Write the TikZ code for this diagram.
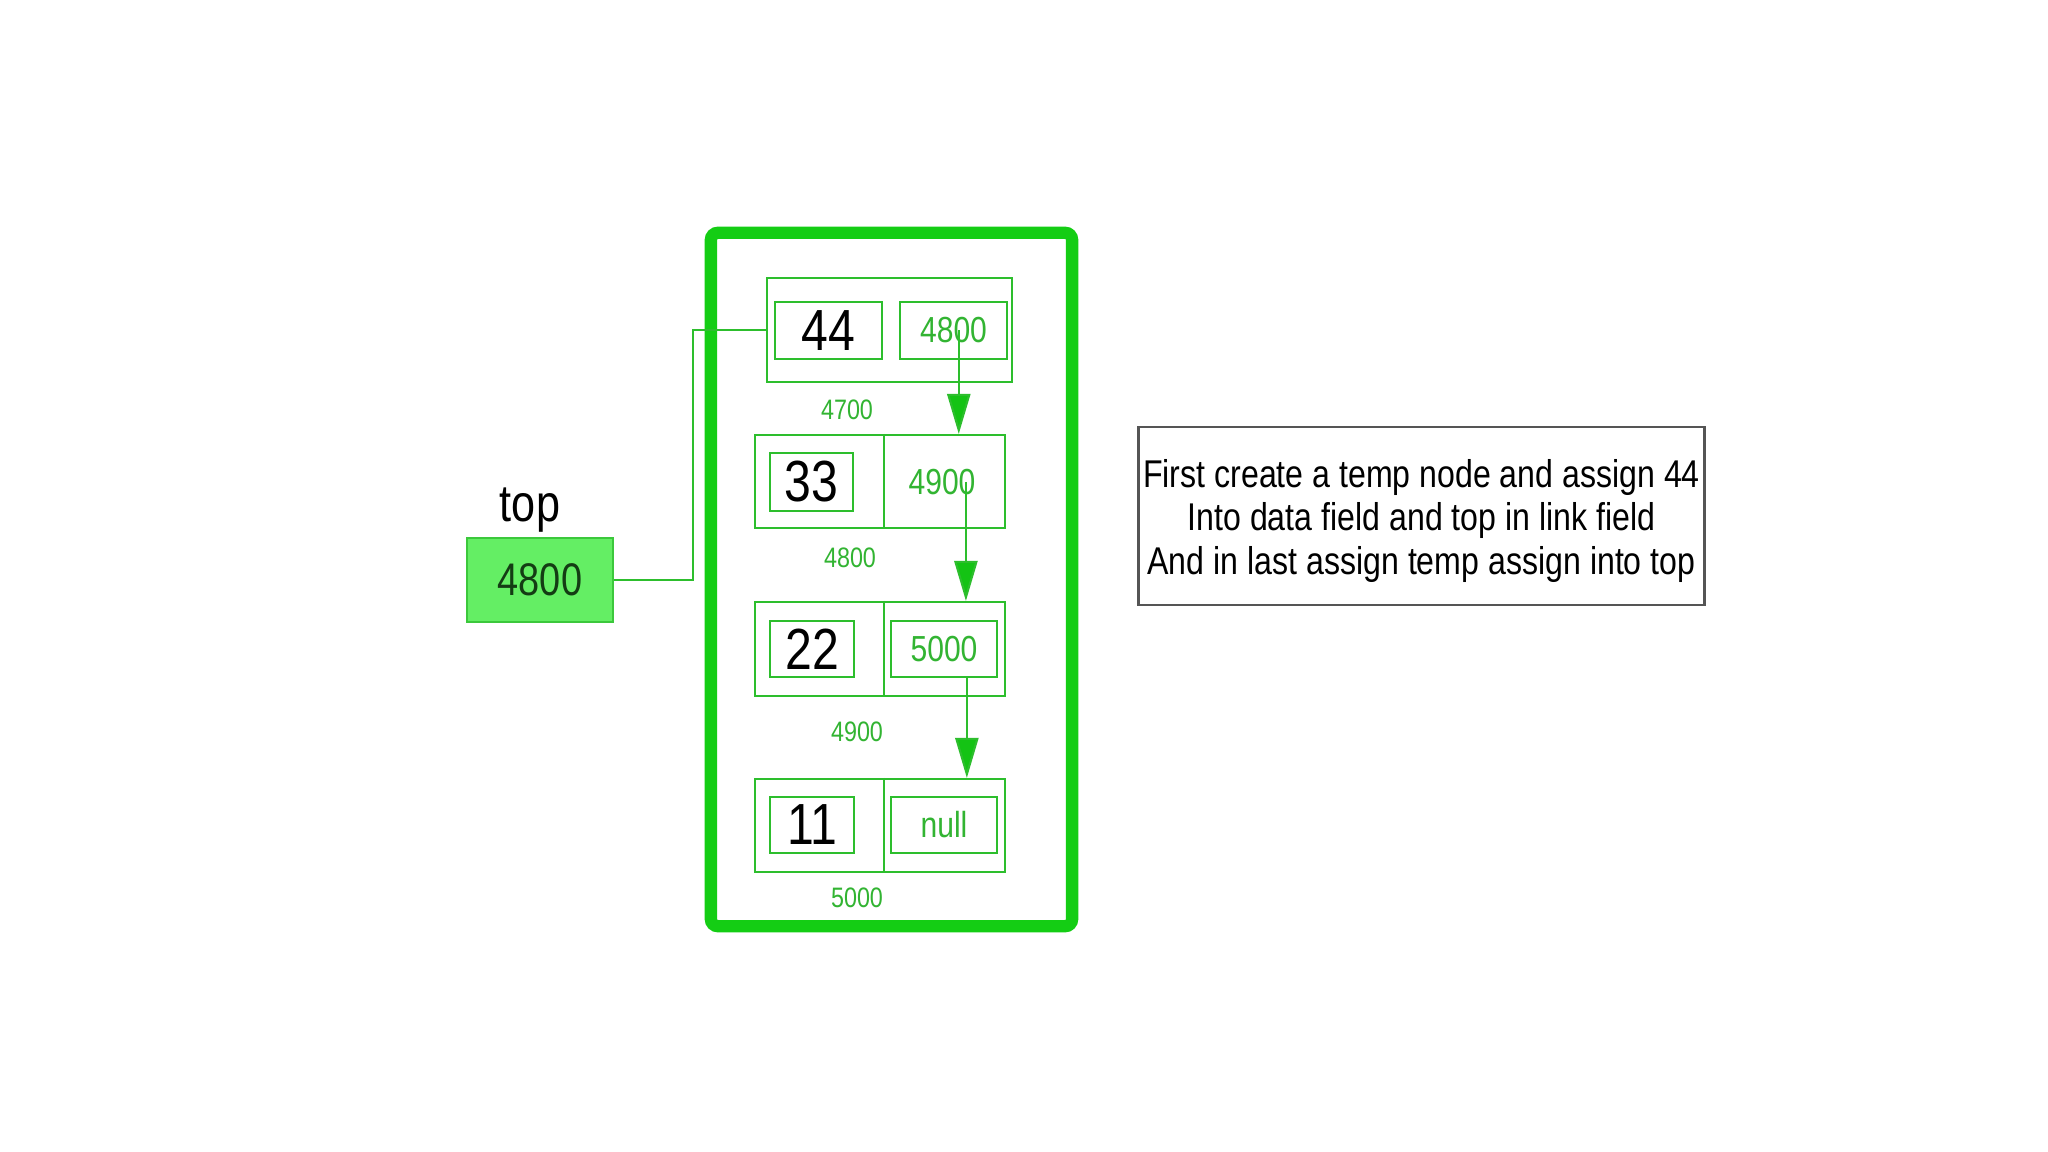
\documentclass[tikz,border=0pt]{standalone}
\usepackage{fontspec}
\setmainfont{Liberation Sans}[FakeStretch=0.83]
\usetikzlibrary{arrows.meta}
\definecolor{gline}{RGB}{45,190,45}
\definecolor{gbig}{RGB}{20,205,20}
\definecolor{gtext}{RGB}{50,180,50}
\definecolor{gfill}{RGB}{100,238,100}
\definecolor{gfillb}{RGB}{60,200,60}
\definecolor{gdark}{RGB}{20,60,20}
\definecolor{garrow}{RGB}{20,195,20}
\definecolor{boxgray}{RGB}{85,85,85}
\tikzset{
  cell/.style={draw=gline, line width=0.6pt, inner sep=0pt},
  datatxt/.style={font=\fontsize{16.5}{18}\selectfont, text=black},
  linktxt/.style={font=\fontsize{10.3}{12}\selectfont, text=gtext},
  addr/.style={font=\fontsize{8}{10}\selectfont, text=gtext, inner sep=0pt},
  ptr/.style={draw=gline, line width=0.6pt, -{Triangle[length=11.4pt, width=6.6pt, fill=garrow]}},
  conn/.style={draw=gline, line width=0.6pt},
}
\begin{document}
\begin{tikzpicture}[x=0.01cm, y=-0.01cm]
\useasboundingbox (0,0) rectangle (2048,1152);
\fill[white] (0,0) rectangle (2048,1152);

% big stack box
\node[draw=gbig, line width=3.5pt, rounded corners=2pt, minimum width=3.61cm, minimum height=6.93cm, inner sep=0pt] (stack) at (891.5,579.5) {};

% node 1 (44)
\node[cell, minimum width=2.45cm, minimum height=1.04cm] (n1) at (889.5,330) {};
\node[cell, datatxt, minimum width=1.07cm, minimum height=0.57cm] (d1) at (828.5,330.5) {44};
\node[cell, linktxt, minimum width=1.07cm, minimum height=0.57cm] (l1) at (953.5,330.5) {4800};
\node[addr] (a1) at (847,410) {4700};

% node 2 (33)
\node[cell, minimum width=2.50cm, minimum height=0.93cm] (n2) at (880,481.5) {};
\draw[conn] ([xshift=1.1pt]n2.north) -- ([xshift=1.1pt]n2.south);
\node[cell, datatxt, minimum width=0.83cm, minimum height=0.58cm] (d2) at (811.5,482) {33};
\node[linktxt, inner sep=0pt] (l2) at (942,482) {4900};
\node[addr] (a2) at (850,558) {4800};

% node 3 (22)
\node[cell, minimum width=2.50cm, minimum height=0.94cm] (n3) at (880,649) {};
\draw[conn] ([xshift=1.1pt]n3.north) -- ([xshift=1.1pt]n3.south);
\node[cell, datatxt, minimum width=0.84cm, minimum height=0.56cm] (d3) at (812,649) {22};
\node[cell, linktxt, minimum width=1.06cm, minimum height=0.56cm] (l3) at (944,649) {5000};
\node[addr] (a3) at (857,732) {4900};

% node 4 (11)
\node[cell, minimum width=2.50cm, minimum height=0.93cm] (n4) at (880,825.5) {};
\draw[conn] ([xshift=1.1pt]n4.north) -- ([xshift=1.1pt]n4.south);
\node[cell, datatxt, minimum width=0.84cm, minimum height=0.56cm] (d4) at (812,825) {11};
\node[cell, linktxt, minimum width=1.06cm, minimum height=0.56cm] (l4) at (944,825) {null};
\node[addr] (a4) at (857,898) {5000};

% pointer arrows
\draw[ptr] ([xshift=1.5pt]l1.center) -- ([xshift=1.5pt]l1.center |- n2.north);
\draw[ptr] ([xshift=6.8pt]l2.center) -- ([xshift=6.8pt]l2.center |- n3.north);
\draw[ptr] ([xshift=6.5pt]l3.south) -- ([xshift=6.5pt]l3.south |- n4.north);

% top pointer
\node[draw=gfillb, fill=gfill, line width=0.6pt, minimum width=1.46cm, minimum height=0.84cm, inner sep=0pt, text=gdark, font=\fontsize{13}{15}\selectfont] (topbox) at (540,580) {4800};
\node[anchor=base, inner sep=0pt, font=\fontsize{14.8}{17}\selectfont] (toplbl) at (530,522) {top};
\coordinate (bend) at (693,330);
\draw[conn] (topbox.east) -| (bend) -- (n1.west);

% explanation box
\node[draw=boxgray, line width=0.8pt, minimum width=5.65cm, minimum height=1.78cm, inner sep=0pt] (expl) at (1421.5,516) {};
\node[inner sep=0pt, align=center, font=\fontsize{11}{12.5}\selectfont] (expltxt) at (1421.5,521) {First create a temp node and assign 44\\Into data field and top in link field\\And in last assign temp assign into top};
\end{tikzpicture}
\end{document}
